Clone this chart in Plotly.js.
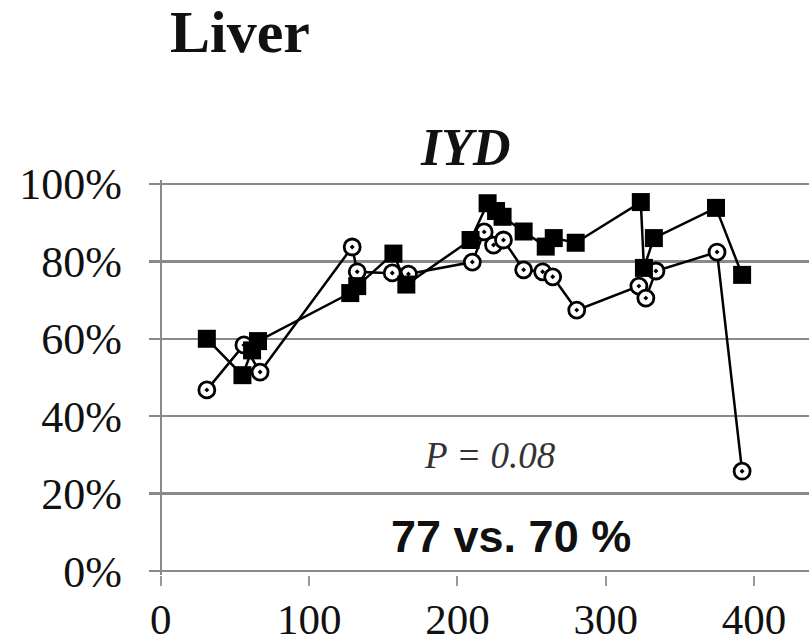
<!DOCTYPE html>
<html>
<head>
<meta charset="utf-8">
<script src="https://cdn.plot.ly/plotly-3.0.1.min.js"></script>
<style>html,body{margin:0;padding:0;background:#fff;}#chart{width:809px;height:644px;}</style>
</head>
<body>
<div id="chart"></div>
<script>
// Filled squares series
const squareX = [31, 55, 61.5, 65.5, 127.7, 132.4, 156.8, 165.5, 208.8, 220.3, 226, 230.4, 244.6, 259.5, 264.9, 279.7, 323.6, 325.7, 332.4, 374.3, 391.9];
const squareY = [60, 50.6, 57, 59.4, 71.8, 73.6, 82, 74, 85.5, 95, 93, 91.5, 87.7, 83.8, 86, 84.8, 95.3, 78.3, 86, 93.8, 76.5];
// Open circles series
const circleX = [31, 56, 66.9, 129, 132.4, 156, 166.9, 210, 218, 224.3, 231, 244.6, 257.4, 264.2, 280.4, 322.3, 327, 333.8, 375, 391.9];
const circleY = [46.8, 58.4, 51.4, 83.7, 77.3, 77, 76.7, 79.8, 87.6, 84.2, 85.5, 77.8, 77.3, 76, 67.4, 73.6, 70.5, 77.5, 82.4, 25.8];
const xTicks = [0, 100, 200, 300, 400];
const yTicks = [0, 20, 40, 60, 80, 100];
const yTickText = ["0%", "20%", "40%", "60%", "80%", "100%"];

const traces = [
  {
    x: circleX, y: circleY, type: 'scatter', mode: 'lines+markers',
    line: {color: '#000', width: 2.5},
    marker: {symbol: 'circle-dot', size: 16, color: '#fff', line: {color: '#000', width: 2.8}},
    hoverinfo: 'none', showlegend: false
  },
  {
    x: squareX, y: squareY, type: 'scatter', mode: 'lines+markers',
    line: {color: '#000', width: 2.5},
    marker: {symbol: 'square', size: 18, color: '#000'},
    hoverinfo: 'none', showlegend: false
  }
];

function px(xp){return (xp-149)/660;}
function py(yp){return (644-69-yp)/(644-180-69);}

const layout = {
  width: 809, height: 644,
  margin: {l: 149, r: 0, t: 180, b: 69},
  paper_bgcolor: '#fff', plot_bgcolor: '#fff',
  xaxis: {
    range: [-8, 437], tickvals: xTicks, ticktext: xTicks.map(String),
    showgrid: false, zeroline: true, zerolinecolor: '#8a8a8a', zerolinewidth: 2.5,
    ticks: 'outside', ticklen: 10, tickwidth: 2, tickcolor: '#999',
    ticklabelstandoff: -4,
    tickfont: {family: 'Liberation Serif', size: 43, color: '#111'},
    showline: false, fixedrange: true
  },
  yaxis: {
    range: [-1, 101], tickvals: yTicks, ticktext: yTickText,
    showgrid: true, gridcolor: '#8a8a8a', gridwidth: 2.5,
    zeroline: false, ticks: '', ticklabelstandoff: 26,
    tickfont: {family: 'Liberation Serif', size: 44, color: '#111'},
    showline: false, fixedrange: true
  },
  annotations: [
    {text: '<b>Liver</b>', xref: 'paper', yref: 'paper', x: px(240), y: py(32), xanchor: 'center', yanchor: 'middle', showarrow: false,
     font: {family: 'Liberation Serif', size: 60, color: '#111'}},
    {text: '<b><i>IYD</i></b>', xref: 'paper', yref: 'paper', x: px(465), y: py(147), xanchor: 'center', yanchor: 'middle', showarrow: false,
     font: {family: 'Liberation Serif', size: 52, color: '#111'}},
    {text: '<i>P = 0.08</i>', xref: 'paper', yref: 'paper', x: px(490), y: py(455), xanchor: 'center', yanchor: 'middle', showarrow: false,
     font: {family: 'Liberation Serif', size: 37, color: '#333'}},
    {text: '<b>77 vs. 70 %</b>', xref: 'paper', yref: 'paper', x: px(511), y: py(536), xanchor: 'center', yanchor: 'middle', showarrow: false,
     font: {family: 'Liberation Sans', size: 45, color: '#111'}}
  ]
};
Plotly.newPlot('chart', traces, layout, {displayModeBar: false, staticPlot: true});
</script>
</body>
</html>
